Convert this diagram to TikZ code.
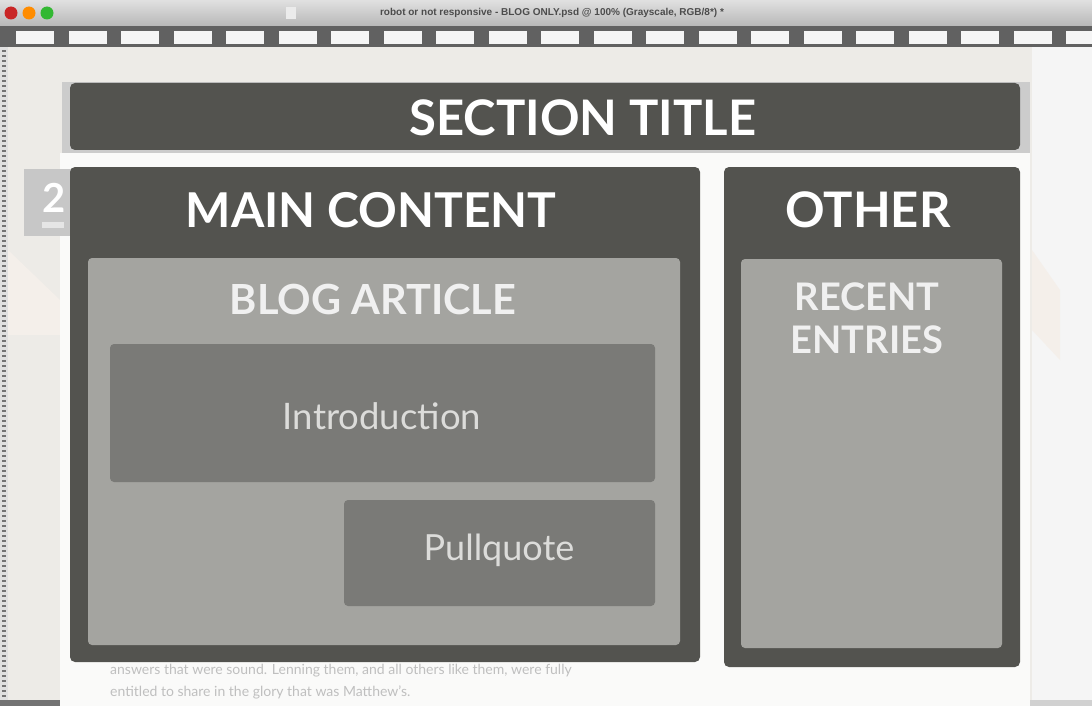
\documentclass[tikz,border=0pt]{standalone}
\usepackage{fontspec}
\setmainfont{Lato}
\newfontfamily\uifont{Liberation Sans}
\definecolor{canvas}{HTML}{EDEBE7}
\definecolor{pagewhite}{HTML}{FAFAF9}
\definecolor{darkbox}{HTML}{53534F}
\definecolor{midbox}{HTML}{A4A4A0}
\definecolor{innerbox}{HTML}{7A7A77}
\definecolor{softtext}{HTML}{DCDCDA}
\tikzset{
  darkpanel/.style={fill=darkbox, rounded corners=5pt},
  midpanel/.style={fill=midbox, rounded corners=4pt},
  innerpanel/.style={fill=innerbox, rounded corners=4pt},
  heading/.style={text=white, font=\bfseries\fontsize{48}{48}\selectfont, inner sep=0pt},
  subheading/.style={text=white!94!black, font=\bfseries\fontsize{41.5}{44}\selectfont, inner sep=0pt, align=center},
  bodylabel/.style={text=softtext, font=\fontsize{36.5}{36.5}\selectfont, inner sep=0pt},
  copytext/.style={text=black!25, font=\fontsize{14}{14}\selectfont, anchor=west, inner sep=0pt},
  light/.style={circle, minimum size=13pt, inner sep=0pt},
}
\begin{document}
\begin{tikzpicture}[x=1pt, y=-1pt]
\useasboundingbox (0,0) rectangle (1092,706);
% window chrome
\fill[top color=white!88!black, bottom color=white!72!black] (0,0) rectangle (1092,26);
\node[light, fill=red!75!black!85] (close) at (11,13) {};
\node[light, fill=orange!90!yellow] (minimise) at (29,13) {};
\node[light, fill=green!65!black!80] (zoom) at (47,13) {};
\node[text=black!70, font=\uifont\bfseries\fontsize{10}{10}\selectfont] (wintitle) at (552,13)
  {robot or not responsive - BLOG ONLY.psd @ 100\% (Grayscale, RGB/8*) *};
\fill[white!92!black] (286,7) rectangle (296,19);
% horizontal ruler
\fill[black!62] (0,26) rectangle (1092,47);
\foreach \i in {0,...,20} {
  \fill[white!96!black] ({16+\i*52.5},31) rectangle ({16+\i*52.5+38},44);
}
% canvas
\fill[canvas] (8,47) rectangle (1092,700);
\fill[white!96!black] (1032,47) rectangle (1092,700);
% vertical ruler
\fill[white!88!black] (0,47) rectangle (8,700);
\foreach \j in {0,...,130} {
  \fill[black!55] (2,{50+\j*5}) rectangle (6,{50+\j*5+2});
}
\fill[black!18] (8,700) rectangle (1092,706);
\fill[black!55] (0,700) rectangle (80,706);
% faint backdrop shapes
\fill[white!90!brown!60!canvas] (8,250) -- (60,300) -- (60,335) -- (8,335) -- cycle;
\fill[white!90!brown!60!canvas] (1032,250) -- (1060,290) -- (1060,360) -- (1032,330) -- cycle;
% page strips
\fill[black!20] (62,82) rectangle (1030,153);
\fill[pagewhite] (60,153) rectangle (1030,706);
% side badge
\fill[black!22] (24,169) rectangle (72,236);
\node[text=white, font=\bfseries\fontsize{40}{40}\selectfont, inner sep=0pt] (badge) at (54,198) {2};
\fill[white!90!black] (42,222) rectangle (64,228);
% section title
\fill[darkpanel] (70,83) rectangle (1020,150);
\node[heading, font=\bfseries\fontsize{49}{49}\selectfont] (sectiontitle) at (583,118) {SECTION TITLE};
% main content column
\fill[darkpanel] (70,167) rectangle (700,662);
\node[heading] (main) at (371,210) {MAIN CONTENT};
\fill[midpanel] (88,258) rectangle (680,645);
\node[subheading] (blog) at (373,299) {BLOG ARTICLE};
\fill[innerpanel] (110,344) rectangle (655,482);
\node[bodylabel] (intro) at (382,416) {Introduction};
\fill[innerpanel] (344,500) rectangle (655,606);
\node[bodylabel, font=\fontsize{36}{36}\selectfont] (pullquote) at (499,550) {Pullquote};
% sidebar column
\fill[darkpanel] (724,167) rectangle (1020,667);
\node[heading, font=\bfseries\fontsize{49}{49}\selectfont] (other) at (868,210) {OTHER};
\fill[midpanel] (741,259) rectangle (1002,648);
\node[subheading, font=\bfseries\fontsize{38}{43}\selectfont] (recent) at (867,318) {RECENT\\ENTRIES};
% body copy below the columns
\node[copytext] (copyone) at (110,671)
  {answers that were sound. Lenning them, and all others like them, were fully};
\node[copytext] (copytwo) at (110,692)
  {entitled to share in the glory that was Matthew's.};
\end{tikzpicture}
\end{document}
